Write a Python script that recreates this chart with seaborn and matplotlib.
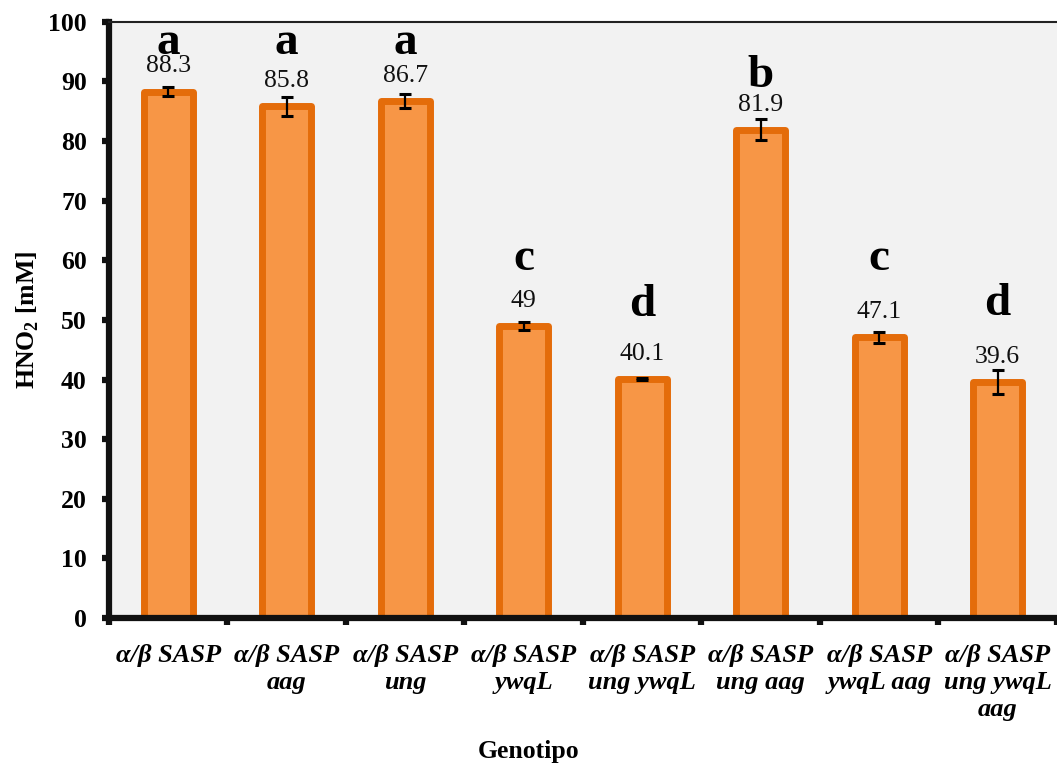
import matplotlib
matplotlib.use("Agg")
import matplotlib.pyplot as plt
import seaborn as sns
import pandas as pd
import numpy as np

# Genotypes, mean HNO2 concentration, error and significance groups
genotipos = [
    "α/β SASP",
    "α/β SASP\naag",
    "α/β SASP\nung",
    "α/β SASP\nywqL",
    "α/β SASP\nung ywqL",
    "α/β SASP\nung aag",
    "α/β SASP\nywqL aag",
    "α/β SASP\nung ywqL\naag",
]
hno2 = [88.3, 85.8, 86.7, 49.0, 40.1, 81.9, 47.1, 39.6]
error = [0.8, 1.6, 1.15, 0.7, 0.2, 1.75, 0.9, 1.95]
grupos = ["a", "a", "a", "c", "d", "b", "c", "d"]
value_text = ["88.3", "85.8", "86.7", "49", "40.1", "81.9", "47.1", "39.6"]
y_ticks = [0, 10, 20, 30, 40, 50, 60, 70, 80, 90, 100]

# Height (data units) at which each significance letter sits
letter_y = [94.6, 94.6, 94.6, 58.4, 50.6, 89.0, 58.4, 50.8]

df = pd.DataFrame({"Genotipo": genotipos, "HNO2": hno2})

sns.set_theme(style="white")
plt.rcParams["font.family"] = ["Liberation Serif", "DejaVu Serif"]
plt.rcParams["mathtext.fontset"] = "custom"
plt.rcParams["mathtext.rm"] = "Liberation Serif"
plt.rcParams["mathtext.bf"] = "Liberation Serif:bold"
plt.rcParams["text.color"] = "black"
plt.rcParams["axes.labelcolor"] = "black"
plt.rcParams["xtick.color"] = "black"
plt.rcParams["ytick.color"] = "black"

fill = "#f79646"
edge = "#e46c0a"

fig = plt.figure(figsize=(10.57, 7.63), dpi=100)
ax = fig.add_axes([0.1031, 0.19, 0.8969, 0.7815])
ax.set_facecolor("#f2f2f2")

sns.barplot(data=df, x="Genotipo", y="HNO2", ax=ax, color=fill,
            edgecolor=edge, linewidth=5, width=0.41, saturation=1,
            errorbar=None)
for p in ax.patches:
    p.set_facecolor(fill)
    p.set_joinstyle("round")

xs = np.arange(len(genotipos))
ax.errorbar(xs, hno2, yerr=error, fmt="none", ecolor="black",
            elinewidth=1.6, capsize=4.3, capthick=2.2, zorder=3)

for x, v, t in zip(xs, hno2, value_text):
    ax.annotate(t, xy=(x, v), xytext=(0, 13.7), textcoords="offset points",
                ha="center", va="baseline", fontsize=18.5, color="#111111")

for x, yl, g in zip(xs, letter_y, grupos):
    ax.text(x, yl, g, ha="center", va="baseline", fontsize=34,
            fontweight="bold", color="black")

ax.set_xlim(-0.5, len(genotipos) - 0.5)
ax.set_ylim(0, 100)
ax.set_yticks(y_ticks)
ax.set_yticklabels([str(v) for v in y_ticks], fontsize=18.5, fontweight="bold")

# Category labels on major ticks, separator marks on minor ticks
ax.set_xticks(xs)
ax.set_xticklabels(genotipos, fontsize=19, fontweight="bold",
                   fontstyle="italic", linespacing=1.2)
ax.set_xticks(np.arange(-0.5, len(genotipos), 1.0), minor=True)
ax.tick_params(axis="x", which="major", length=0, pad=19)
ax.tick_params(axis="x", which="minor", length=5, width=4.5,
               direction="out", color="#111111", bottom=True)
ax.tick_params(axis="y", which="major", length=5, width=4.5,
               direction="out", color="#111111", left=True, pad=11)

for side in ["left", "bottom"]:
    ax.spines[side].set_linewidth(4.5)
    ax.spines[side].set_color("#111111")
ax.spines["top"].set_linewidth(1.5)
ax.spines["top"].set_color("#222222")
ax.spines["right"].set_visible(False)

ax.set_xlabel("Genotipo", fontsize=18.5, fontweight="bold")
ax.xaxis.set_label_coords(0.4425, -0.2348)
ax.xaxis.label.set_va("baseline")
ax.set_ylabel(r"HNO$_\mathbf{2}$ [mM]", fontsize=18.5, fontweight="bold",
              labelpad=5)

fig.savefig("out.png", dpi=100, facecolor="white")
